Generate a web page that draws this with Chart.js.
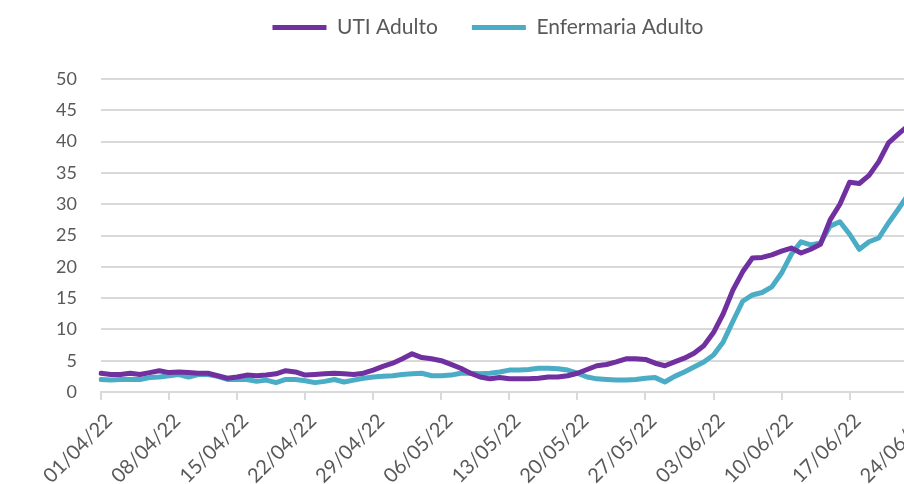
<!DOCTYPE html>
<html>
<head>
<meta charset="utf-8">
<script src="https://cdn.jsdelivr.net/npm/chart.js@4.4.0/dist/chart.umd.min.js"></script>
<style>
  html, body { margin: 0; padding: 0; overflow: hidden; background: #fff; }
  #wrap { width: 990px; height: 484px; }
</style>
</head>
<body>
<div id="wrap"><canvas id="myChart" width="990" height="484"></canvas></div>
<script>
// days from 01/04/22 to 30/06/22
const monthDays = [['04', 30], ['05', 31], ['06', 30]];
const dias = [];
monthDays.forEach(([m, n]) => {
  for (let d = 1; d <= n; d++) dias.push(String(d).padStart(2, '0') + '/' + m + '/22');
});

const utiAdulto = [
  3.0, 2.8, 2.8, 3.0, 2.8, 3.1, 3.4, 3.1, 3.2, 3.1,
  3.0, 3.0, 2.6, 2.2, 2.4, 2.7, 2.6, 2.7, 2.9, 3.4,
  3.2, 2.7, 2.8, 2.9, 3.0, 2.9, 2.8, 3.0, 3.5, 4.1,
  4.6, 5.3, 6.1, 5.5, 5.3, 5.0, 4.4, 3.8, 3.0, 2.4,
  2.1, 2.3, 2.1, 2.1, 2.1, 2.2, 2.4, 2.4, 2.6, 3.0,
  3.6, 4.2, 4.4, 4.8, 5.3, 5.3, 5.2, 4.6, 4.2, 4.8,
  5.4, 6.2, 7.4, 9.5, 12.5, 16.3, 19.2, 21.4, 21.5, 21.9,
  22.5, 23.0, 22.2, 22.8, 23.6, 27.5, 30.0, 33.5, 33.3, 34.6,
  36.8, 39.8, 41.2, 42.5
];

const enfermariaAdulto = [
  2.0, 1.9, 2.0, 2.0, 2.0, 2.3, 2.4, 2.6, 2.8, 2.4,
  2.8, 2.8, 2.5, 2.0, 2.0, 2.0, 1.7, 1.9, 1.5, 2.0,
  2.0, 1.8, 1.5, 1.7, 2.0, 1.6, 1.9, 2.2, 2.4, 2.5,
  2.6, 2.8, 2.9, 3.0, 2.6, 2.6, 2.7, 3.0, 3.0, 2.9,
  3.0, 3.2, 3.5, 3.5, 3.6, 3.8, 3.8, 3.7, 3.5, 3.0,
  2.4, 2.1, 2.0, 1.9, 1.9, 2.0, 2.2, 2.3, 1.6, 2.5,
  3.2, 4.0, 4.8, 5.9, 8.0, 11.3, 14.5, 15.5, 15.9, 16.8,
  19.0, 22.0, 24.0, 23.5, 23.8, 26.5, 27.2, 25.2, 22.8, 24.0,
  24.6, 27.0, 29.2, 31.5
];

const yTicks = { min: 0, max: 50, step: 5 };

const textColor = '#595959';
const gridColor = '#d9d9d9';
const fontFamily = 'Lato, Carlito, Calibri, sans-serif';

// extra space under the legend
const legendMargin = {
  id: 'legendMargin',
  beforeInit(chart) {
    const fit = chart.legend.fit;
    chart.legend.fit = function () {
      fit.bind(chart.legend)();
      this.height += 31;
    };
  },
};

const ctx = document.getElementById('myChart').getContext('2d');
new Chart(ctx, {
  type: 'line',
  data: {
    labels: dias,
    datasets: [
      {
        label: 'UTI Adulto',
        data: utiAdulto,
        borderColor: '#7030a0',
        backgroundColor: '#7030a0',
        borderWidth: 5,
        pointRadius: 0,
        tension: 0,
        borderCapStyle: 'round',
        borderJoinStyle: 'round',
      },
      {
        label: 'Enfermaria Adulto',
        data: enfermariaAdulto,
        borderColor: '#4bacc6',
        backgroundColor: '#4bacc6',
        borderWidth: 5,
        pointRadius: 0,
        tension: 0,
        borderCapStyle: 'round',
        borderJoinStyle: 'round',
      },
    ],
  },
  options: {
    responsive: false,
    animation: false,
    layout: { padding: { top: -17, left: 0, right: 14, bottom: 0 } },
    plugins: {
      legend: {
        position: 'top',
        labels: {
          usePointStyle: true,
          pointStyle: 'line',
          pointStyleWidth: 54,
          padding: 34,
          color: textColor,
          font: { family: fontFamily, size: 21 },
        },
      },
      tooltip: { enabled: false },
    },
    scales: {
      x: {
        offset: false,
        grid: {
          drawOnChartArea: false,
          drawTicks: true,
          tickLength: 8,
          color: gridColor,
          lineWidth: 2,
        },
        border: { color: gridColor, width: 2 },
        ticks: {
          autoSkip: false,
          minRotation: 45,
          maxRotation: 45,
          padding: 9,
          labelOffset: 8,
          color: textColor,
          font: { family: fontFamily, size: 20 },
          callback: function (val, i) {
            return i % 7 === 0 ? dias[i] : null;
          },
        },
        afterFit: (s) => { s.height = 92; },
      },
      y: {
        min: yTicks.min,
        max: yTicks.max,
        grid: { color: gridColor, lineWidth: 2, drawTicks: false },
        border: { display: false },
        ticks: {
          stepSize: yTicks.step,
          padding: 24,
          color: textColor,
          font: { family: fontFamily, size: 18 },
        },
        afterFit: (s) => { s.width = 101; },
      },
    },
  },
  plugins: [legendMargin],
});
</script>
</body>
</html>
